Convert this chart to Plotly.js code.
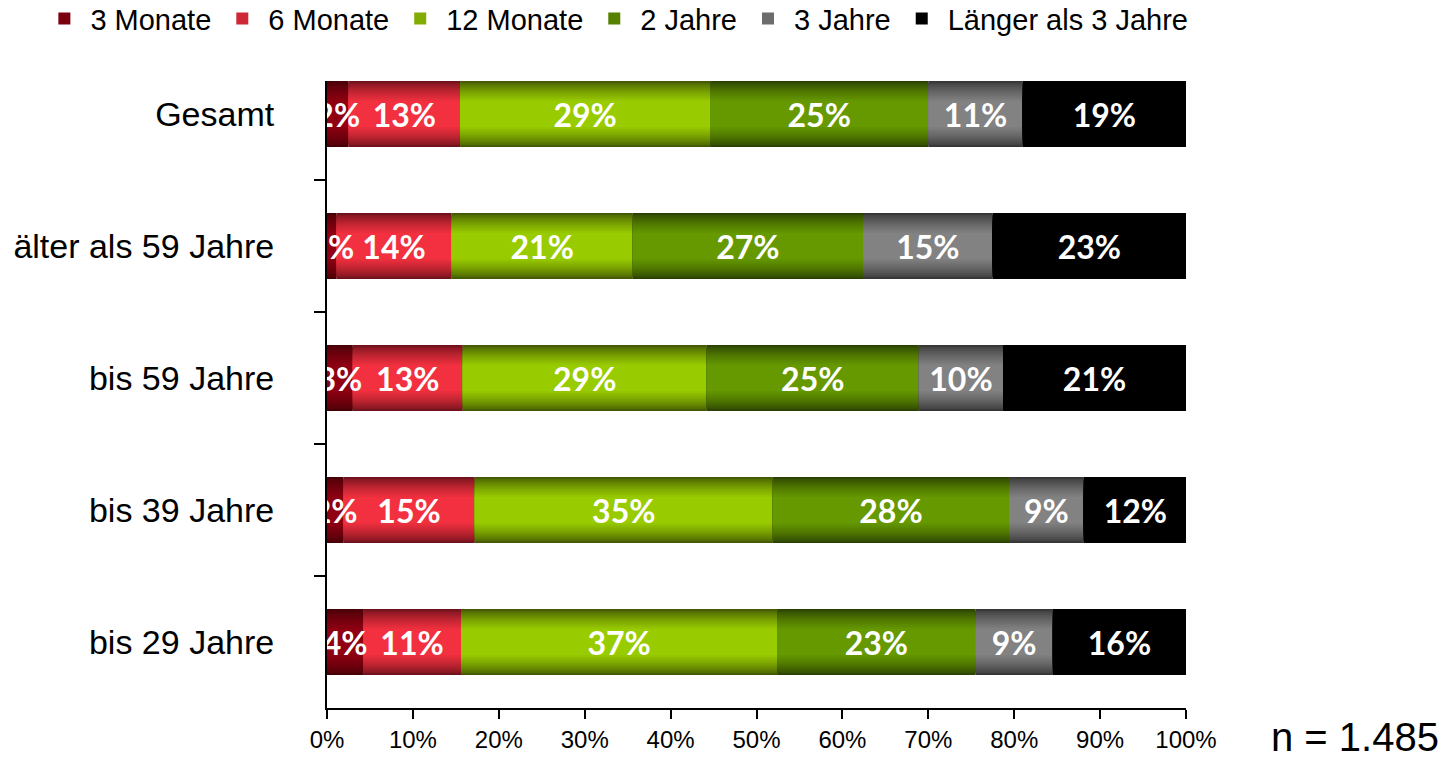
<!DOCTYPE html>
<html>
<head>
<meta charset="utf-8">
<script src="https://cdn.plot.ly/plotly-3.0.1.min.js"></script>
<style>
  html, body { margin: 0; padding: 0; background: #fff; }
  #chart { width: 1450px; height: 760px; }
</style>
</head>
<body>
<div id="chart"></div>
<script>
// categories from top to bottom
const categories = ['Gesamt', 'älter als 59 Jahre', 'bis 59 Jahre', 'bis 39 Jahre', 'bis 29 Jahre'];
const seriesNames = ['3 Monate', '6 Monate', '12 Monate', '2 Jahre', '3 Jahre', 'Länger als 3 Jahre'];

// segment widths (%)
const m3 = [2.5, 1.1, 3.0, 1.9, 4.2];
const m6 = [13.0, 13.4, 12.8, 15.3, 11.4];
const m12 = [29.1, 21.1, 28.4, 34.7, 36.8];
const j2 = [25.4, 26.8, 24.7, 27.5, 23.1];
const j3 = [11.0, 15.1, 9.8, 8.7, 9.0];
const longer = [19.0, 22.5, 21.3, 12.0, 15.5];

// printed labels
const m3Labels = ['2%', '1%', '3%', '2%', '4%'];
const m6Labels = ['13%', '14%', '13%', '15%', '11%'];
const m12Labels = ['29%', '21%', '29%', '35%', '37%'];
const j2Labels = ['25%', '27%', '25%', '28%', '23%'];
const j3Labels = ['11%', '15%', '10%', '9%', '9%'];
const longerLabels = ['19%', '23%', '21%', '12%', '16%'];

const xTicks = [0, 10, 20, 30, 40, 50, 60, 70, 80, 90, 100];

const allValues = [m3, m6, m12, j2, j3, longer];
const allLabels = [m3Labels, m6Labels, m12Labels, j2Labels, j3Labels, longerLabels];

// edge / centre colour of each bar gradient
const edgeColors = ['#470006', '#6e121c', '#435800', '#2b4200', '#363636', '#000000'];
const centerColors = ['#8e0012', '#f2303f', '#99cc00', '#669900', '#828282', '#000000'];

function hexToRgb(h) {
    return [1, 3, 5].map(i => parseInt(h.substr(i, 2), 16));
}
function mix(a, b, t) {
    const ca = hexToRgb(a), cb = hexToRgb(b);
    const c = ca.map((v, i) => Math.round(v + (cb[i] - v) * t));
    return 'rgb(' + c.join(',') + ')';
}

// running start of each segment
const bases = [];
let running = categories.map(() => 0);
allValues.forEach(vals => {
    bases.push(running.slice());
    running = running.map((r, i) => r + vals[i]);
});

// gradient: stacked layers, widest = darkest edge
const nLayers = 12;
const layerWidths = Array.from({ length: nLayers }, (_, k) => 0.5 - k * (0.5 - 0.2) / (nLayers - 1));
const data = [];

allValues.forEach((vals, s) => {
    layerWidths.forEach((w, k) => {
        const t = Math.pow(k / (nLayers - 1), 0.7);
        data.push({
            type: 'bar',
            orientation: 'h',
            y: categories,
            x: vals,
            base: bases[s],
            width: w,
            name: seriesNames[s],
            legendgroup: seriesNames[s],
            showlegend: k === 7,
            marker: { color: mix(edgeColors[s], centerColors[s], t), line: { width: 0 } },
            hoverinfo: 'skip'
        });
    });
});

// labels on top of everything
allValues.forEach((vals, s) => {
    data.push({
        type: 'bar',
        orientation: 'h',
        y: categories,
        x: vals,
        base: bases[s],
        width: 0.5,
        showlegend: false,
        marker: { color: 'rgba(0,0,0,0)' },
        text: allLabels[s],
        textposition: 'inside',
        insidetextanchor: 'middle',
        textangle: 0,
        constraintext: 'none',
        textfont: { family: 'Lato, sans-serif', size: 32, color: '#ffffff', weight: 'bold' },
        hoverinfo: 'skip'
    });
});

const axisFont = 'Liberation Sans Narrow, Liberation Sans, Arial, sans-serif';

const layout = {
    width: 1450,
    height: 760,
    margin: { l: 327, r: 264, t: 81, b: 52, autoexpand: false },
    paper_bgcolor: '#ffffff',
    plot_bgcolor: '#ffffff',
    barmode: 'overlay',
    showlegend: true,
    legend: {
        orientation: 'h',
        x: -0.336,
        xanchor: 'left',
        y: 1.14,
        yanchor: 'top',
        itemwidth: 42,
        font: { family: axisFont, size: 29, color: '#000000' },
        traceorder: 'normal',
        itemclick: false,
        itemdoubleclick: false
    },
    xaxis: {
        range: [0, 100],
        tickvals: xTicks,
        ticktext: xTicks.map(v => v + '%'),
        ticks: 'outside',
        ticklen: 9,
        tickwidth: 2,
        tickcolor: '#000000',
        showline: true,
        linecolor: '#000000',
        linewidth: 2,
        showgrid: false,
        zeroline: false,
        tickfont: { family: axisFont, size: 24, color: '#000000' },
        fixedrange: true
    },
    yaxis: {
        type: 'category',
        categoryorder: 'array',
        categoryarray: categories,
        range: [4.5, -0.25],
        tickson: 'boundaries',
        ticks: 'outside',
        ticklen: 11,
        tickwidth: 2,
        tickcolor: '#000000',
        showline: true,
        linecolor: '#000000',
        linewidth: 2,
        showgrid: false,
        zeroline: false,
        ticklabelstandoff: 44,
        tickfont: { family: axisFont, size: 34, color: '#000000' },
        fixedrange: true
    },
    annotations: [{
        xref: 'paper',
        yref: 'paper',
        x: 1.297,
        y: -0.046,
        xanchor: 'right',
        yanchor: 'middle',
        text: 'n = 1.485',
        showarrow: false,
        font: { family: axisFont, size: 40, color: '#000000' }
    }]
};

Plotly.newPlot('chart', data, layout, { displayModeBar: false, staticPlot: true });
</script>
</body>
</html>
